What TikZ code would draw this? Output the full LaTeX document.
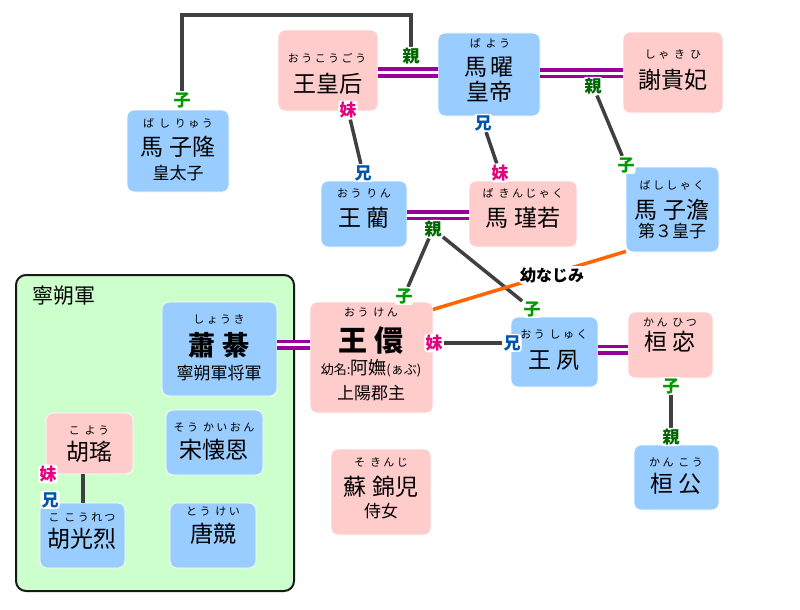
\documentclass[tikz,border=0pt]{standalone}
\usepackage{fontspec}
\newfontfamily\jp{Noto Sans CJK JP}
\newfontfamily\jpr[LetterSpace=22]{Noto Sans CJK JP}
\definecolor{bl}{HTML}{99CCFF}
\definecolor{pk}{HTML}{FFCCCC}
\definecolor{gr}{HTML}{CCFFCC}
\definecolor{mar}{HTML}{990099}
\definecolor{ln}{HTML}{404040}
\definecolor{og}{HTML}{FF6600}
\definecolor{cOya}{HTML}{006600}
\definecolor{cKo}{HTML}{009900}
\definecolor{cImo}{HTML}{E4007F}
\definecolor{cAni}{HTML}{0055AA}
\pgfdeclarelayer{back}
\pgfdeclarelayer{mid}
\pgfsetlayers{back,mid,main}
\begin{document}
\begin{tikzpicture}[x=1pt,y=-1pt,
 box/.style={rounded corners=7pt, draw=white, line width=0.8pt, inner sep=0pt, outer sep=0pt},
 bb/.style={box, fill=bl}, pb/.style={box, fill=pk},
 rb/.style={font=\jpr\fontsize{11}{11}\selectfont, inner sep=0pt},
 nm/.style={font=\jp\fontsize{23}{23}\selectfont, inner sep=0pt},
 sb/.style={font=\jp\fontsize{17}{17}\selectfont, inner sep=0pt},
 lab/.style={font=\jp\bfseries\fontsize{17}{17}\selectfont, fill=white, rounded corners=3pt, inner sep=1.2pt},
 oya/.style={lab, text=cOya}, ko/.style={lab, text=cKo},
 imo/.style={lab, text=cImo}, ani/.style={lab, text=cAni},
 marr/.style={draw=mar, double=white, line width=3.5pt, double distance=3pt},
 rel/.style={draw=ln, line width=3.5pt},
]
\begin{pgfonlayer}{back}
\useasboundingbox (0,0) rectangle (800,610);
\fill[white] (0,0) rectangle (800,610);

% group
\node[draw=black!90, line width=2pt, fill=gr, rounded corners=10pt, minimum width=278pt, minimum height=316pt, inner sep=0pt] (grp) at (155,433) {};
\node[font=\jp\fontsize{21}{21}\selectfont, inner sep=0pt] (gt) at (64,296) {寧朔軍};

% boxes
\node[pb, minimum width=100pt, minimum height=81pt] (hk) at (328,70.5) {};
\node[bb, minimum width=102pt, minimum height=83pt] (by) at (489,74.5) {};
\node[pb, minimum width=100pt, minimum height=81pt] (sk) at (673,72.5) {};
\node[bb, minimum width=102pt, minimum height=82pt] (szl) at (178,151) {};
\node[bb, minimum width=86pt, minimum height=66pt] (wl) at (364,214) {};
\node[pb, minimum width=108pt, minimum height=66pt] (bkj) at (523,214) {};
\node[bb, minimum width=93pt, minimum height=85pt] (szt) at (672.5,209.5) {};
\node[bb, minimum width=115pt, minimum height=94pt] (sq) at (219.5,349) {};
\node[pb, minimum width=123pt, minimum height=111pt] (wx) at (371.5,357.5) {};
\node[bb, minimum width=87pt, minimum height=70pt] (ws) at (554.5,352) {};
\node[pb, minimum width=85pt, minimum height=66pt] (hm) at (670.5,345) {};
\node[bb, minimum width=85pt, minimum height=65pt] (hg) at (676.5,477.5) {};
\node[pb, minimum width=100pt, minimum height=86pt] (skj) at (381,492) {};
\node[pb, minimum width=87pt, minimum height=61pt] (hy) at (89.5,443.5) {};
\node[bb, minimum width=85pt, minimum height=65pt] (hgl) at (82.5,535.5) {};
\node[bb, minimum width=97pt, minimum height=65pt] (shn) at (214.5,442.5) {};
\node[bb, minimum width=86pt, minimum height=65pt] (tk) at (213,535.5) {};

% texts
\node[rb] (hkr) at (327,58) {おうこうごう};
\node[nm] (hkn) at (328,84) {王皇后};
\node[rb] (byr) at (490,43) {ば よう};
\node[nm] (byn) at (489,67) {馬\,曜};
\node[nm] (byt) at (489,92) {皇帝};
\node[rb] (skr) at (673,55) {しゃ き ひ};
\node[nm] (skn) at (673,80) {謝貴妃};
\node[rb] (szlr) at (178,123) {ば し りゅう};
\node[nm] (szln) at (178,147) {馬 子隆};
\node[sb] (szlt) at (178,173) {皇太子};
\node[rb] (wlr) at (364,193) {おう りん};
\node[nm] (wln) at (364,218) {王 藺};
\node[rb] (bkjr) at (523,193) {ば きんじゃく};
\node[nm] (bkjn) at (523,218) {馬 瑾若};
\node[rb] (sztr) at (672,185) {ばししゃく};
\node[nm] (sztn) at (672,210) {馬 子澹};
\node[sb] (sztt) at (672,231) {第３皇子};
\node[rb] (sqr) at (219,319) {しょうき};
\node[font=\jp\bfseries\fontsize{27}{27}\selectfont, inner sep=0pt] (sqn) at (219,345) {蕭 綦};
\node[sb] (sqt) at (219,373) {寧朔軍将軍};
\node[rb] (wxr) at (371,312) {おう けん};
\node[font=\jp\bfseries\fontsize{29}{29}\selectfont, inner sep=0pt] (wxn) at (371,341) {王 儇};
\node[inner sep=0pt, font=\jp] (wxy) at (371,368) {{\fontsize{13}{13}\selectfont 幼名:}{\fontsize{18}{18}\selectfont 阿嫵}{\fontsize{13}{13}\selectfont (ぁぶ)}};
\node[sb] (wxt) at (371,393) {上陽郡主};
\node[rb] (wsr) at (554,335) {おう しゅく};
\node[nm] (wsn) at (554,360) {王 夙};
\node[rb] (hmr) at (670,322) {かん ひつ};
\node[nm] (hmn) at (670,342) {桓 宓};
\node[rb] (hgr) at (676,462) {かん こう};
\node[nm] (hgn) at (676,484) {桓 公};
\node[rb] (skjr) at (381,462) {そ きんじ};
\node[nm] (skjn) at (381,487) {蘇 錦児};
\node[sb] (skjt) at (381,511) {侍女};
\node[rb] (hyr) at (89,430) {こ よう};
\node[nm] (hyn) at (89,452) {胡瑤};
\node[rb] (hglr) at (82,517) {こ こうれつ};
\node[nm] (hgln) at (82,539) {胡光烈};
\node[rb] (shnr) at (214,427) {そう かいおん};
\node[nm] (shnn) at (214,450) {宋懐恩};
\node[rb] (tkr) at (213,512) {とう けい};
\node[nm] (tkn) at (213,534) {唐競};
\end{pgfonlayer}

% relation labels
\node[ko] (k1) at (182,100) {子};
\node[oya] (p1) at (411,56) {親};
\node[oya] (p2) at (593,86) {親};
\node[ko] (k2) at (626,165) {子};
\node[imo] (i1) at (348,110) {妹};
\node[ani] (a1) at (363,173) {兄};
\node[ani] (a2) at (483,123) {兄};
\node[imo] (i2) at (500,173) {妹};
\node[oya] (p3) at (433,229) {親};
\node[ko] (k3) at (404,296) {子};
\node[ko] (k4) at (532,309) {子};
\node[imo] (i3) at (434,343) {妹};
\node[ani] (a3) at (512,343) {兄};
\node[ko] (k5) at (671,386) {子};
\node[oya] (p5) at (671,437) {親};
\node[imo] (i4) at (48,474) {妹};
\node[ani] (a4) at (50,500) {兄};
\node[font=\jp\bfseries\fontsize{16}{16}\selectfont, fill=white, rounded corners=3pt, inner sep=1.2pt] (osn) at (552,275) {幼なじみ};

\begin{pgfonlayer}{mid}
% marriage lines
\coordinate (m1) at (408,72.5);
\coordinate (m2) at (580,73);
\coordinate (m3) at (438,215);
\coordinate (m4) at (293,344.5);
\coordinate (m5) at (613,349.5);
\draw[marr] (m1 -| hk.east) -- (m1 -| by.west);
\draw[marr] (m2 -| by.east) -- (m2 -| sk.west);
\draw[marr] (m3 -| wl.east) -- (m3 -| bkj.west);
\draw[marr] (m4 -| sq.east) -- (m4 -| wx.west);
\draw[marr] (m5 -| ws.east) -- (m5 -| hm.west);
% relation lines
\coordinate (t1) at (300,15);
\coordinate (c83) at (83,490);
\draw[rel] (k1) |- (t1) -| (p1);
\draw[rel] (p2) -- (k2);
\draw[rel] (i1) -- (a1);
\draw[rel] (a2) -- (i2);
\draw[rel] (p3) -- (k3);
\draw[rel] (p3) -- (k4);
\draw[rel] (i3) -- (a3);
\draw[rel] (k5) -- (p5);
\draw[rel] (hy.south -| c83) -- (hgl.north -| c83);
\draw[draw=og, line width=3.5pt] (wx.38) -- (szt.222);
\end{pgfonlayer}
\end{tikzpicture}
\end{document}
